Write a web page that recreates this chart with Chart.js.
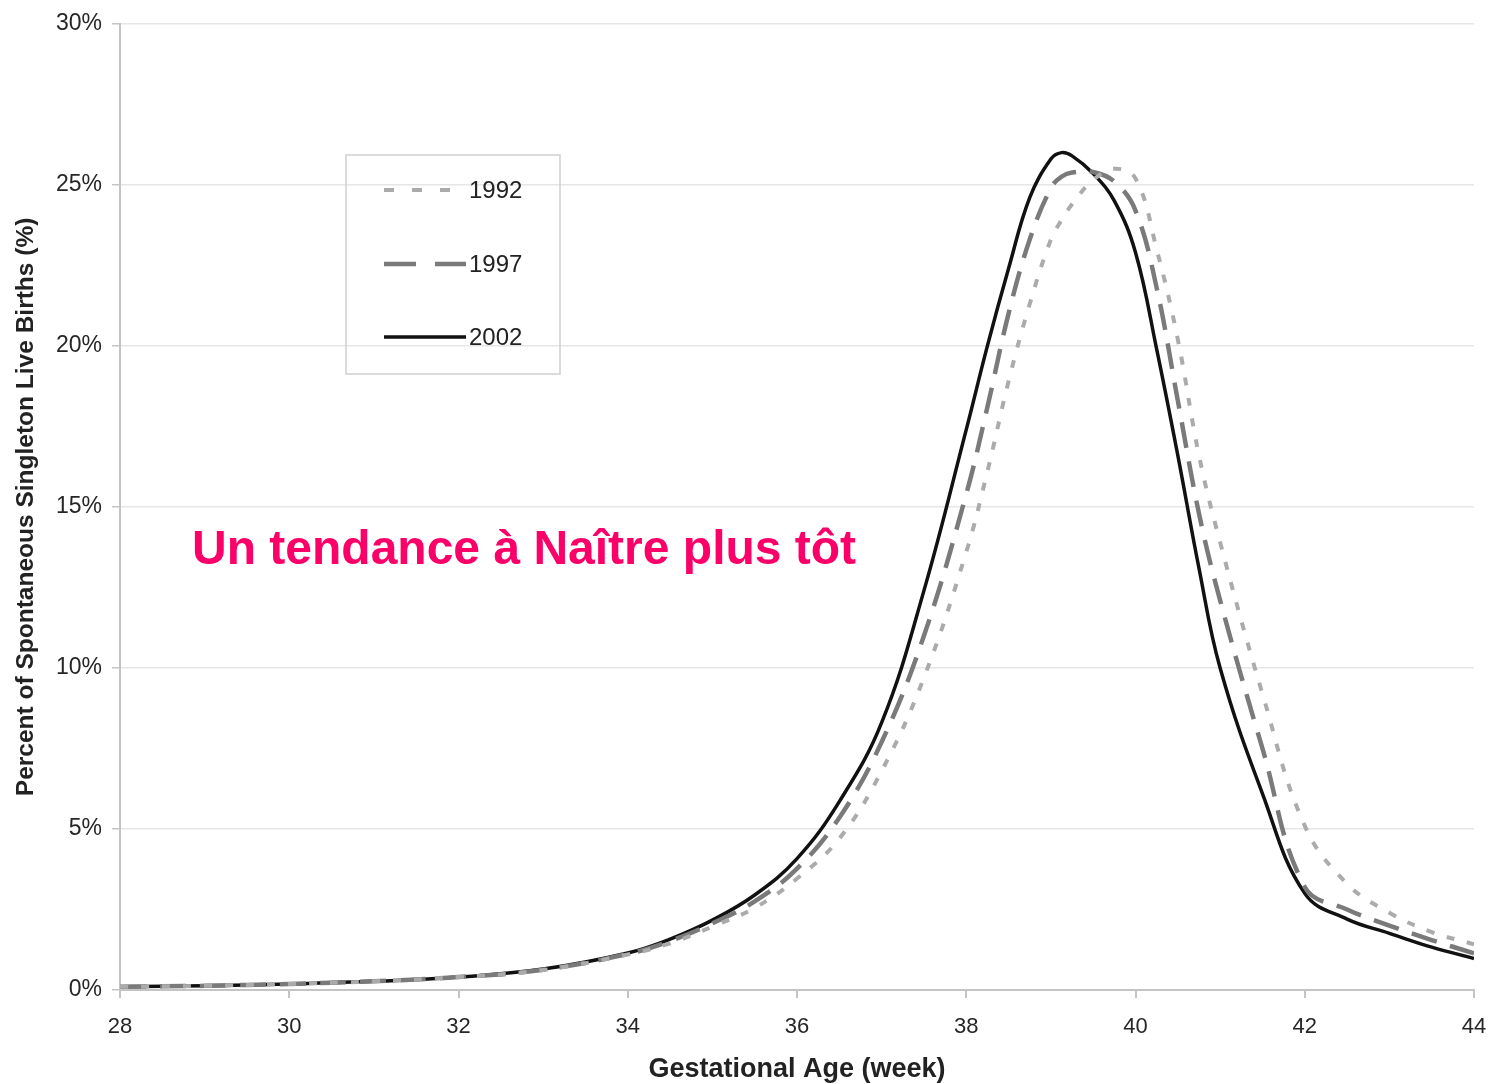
<!DOCTYPE html>
<html>
<head>
<meta charset="utf-8">
<script src="https://cdn.jsdelivr.net/npm/chart.js@4.4.0/dist/chart.umd.min.js"></script>
<style>
  body { margin: 0; background: #fff; }
  #wrap { width: 1497px; height: 1084px; position: relative; }
</style>
</head>
<body>
<div id="wrap"><canvas id="chart"></canvas></div>
<script>
// gestational age (weeks), finer steps around the peak
const weeks = [28, 29, 30, 31, 32, 33, 34, 34.5, 35, 35.5, 36, 36.5, 37, 37.5, 38, 38.25, 38.5, 38.75,
  39, 39.125, 39.25, 39.5, 39.75, 40, 40.25, 40.5, 40.75, 41, 41.5, 42, 42.5, 43, 43.5, 44];

// percent of spontaneous singleton live births
const births1992 = [0.10, 0.13, 0.19, 0.27, 0.40, 0.62, 1.10, 1.45, 1.97, 2.55, 3.46, 4.70, 6.80, 9.70, 13.6, 16.1, 18.9, 21.3,
  23.3, 23.9, 24.4, 25.15, 25.5, 25.2, 23.0, 20.2, 16.6, 13.9, 9.2, 5.1, 3.3, 2.4, 1.8, 1.42];
const births1997 = [0.10, 0.13, 0.19, 0.27, 0.40, 0.63, 1.12, 1.52, 2.07, 2.75, 3.77, 5.35, 7.70, 11.0, 15.4, 18.1, 21.0, 23.3,
  24.9, 25.25, 25.38, 25.4, 25.1, 24.2, 21.8, 18.3, 14.8, 12.1, 7.5, 3.2, 2.5, 2.0, 1.55, 1.14];
const births2002 = [0.10, 0.13, 0.19, 0.27, 0.40, 0.65, 1.15, 1.58, 2.17, 2.95, 4.08, 5.85, 8.3, 12.4, 17.4, 20.0, 22.4, 24.6,
  25.8, 26.0, 25.9, 25.35, 24.5, 22.9, 19.9, 16.6, 13.1, 10.0, 6.1, 3.0, 2.2, 1.76, 1.33, 0.98];

const seriesLabels = ["1992", "1997", "2002"];
const yTicks = [0, 5, 10, 15, 20, 25, 30];
const xTicks = [28, 30, 32, 34, 36, 38, 40, 42, 44];
const noteText = "Un tendance à Naître plus tôt";

const FONT = "'Liberation Sans', Arial, sans-serif";

const toPoints = (vals) => vals.map((v, i) => ({ x: weeks[i], y: v }));

// legend box drawn by hand, like the original spreadsheet legend
const legendBox = {
  id: "legendBox",
  afterDraw(chart) {
    const ctx = chart.ctx;
    ctx.save();
    ctx.strokeStyle = "#cfcfcf";
    ctx.lineWidth = 1.5;
    ctx.strokeRect(346, 155, 214, 219);
    const rows = [190, 264, 337];
    const dashes = [[10, 18], [32, 19], []];
    chart.data.datasets.forEach((ds, i) => {
      ctx.beginPath();
      ctx.setLineDash(dashes[i]);
      ctx.strokeStyle = ds.borderColor;
      ctx.lineWidth = ds.borderWidth;
      ctx.moveTo(384, rows[i]);
      ctx.lineTo(466, rows[i]);
      ctx.stroke();
      ctx.setLineDash([]);
      ctx.fillStyle = "#222";
      ctx.font = "24px " + FONT;
      ctx.textBaseline = "middle";
      ctx.fillText(ds.label, 469, rows[i] + 1);
    });
    // note in pink
    ctx.fillStyle = "#fa0068";
    ctx.font = "bold 48px " + FONT;
    ctx.textBaseline = "alphabetic";
    ctx.fillText(noteText, 192, 564);
    ctx.restore();
  }
};

new Chart(document.getElementById("chart"), {
  type: "line",
  plugins: [legendBox],
  data: {
    datasets: [
      { label: seriesLabels[0], data: toPoints(births1992), borderColor: "#ababab", borderWidth: 4, borderDash: [8, 13] },
      { label: seriesLabels[1], data: toPoints(births1997), borderColor: "#7a7a7a", borderWidth: 4.5, borderDash: [26, 14] },
      { label: seriesLabels[2], data: toPoints(births2002), borderColor: "#111111", borderWidth: 3.5 }
    ]
  },
  options: {
    responsive: true,
    maintainAspectRatio: false,
    animation: false,
    layout: { padding: { top: 20, right: 23, left: 0, bottom: 0 } },
    elements: {
      point: { radius: 0 },
      line: { tension: 0.4, fill: false }
    },
    plugins: { legend: { display: false }, tooltip: { enabled: false } },
    scales: {
      x: {
        type: "linear",
        min: 28, max: 44,
        afterFit: (s) => { s.height = 94; s.paddingLeft = 0; s.paddingRight = 0; },
        afterBuildTicks: (s) => { s.ticks = xTicks.map(v => ({ value: v })); },
        ticks: { color: "#262626", font: { family: FONT, size: 22 }, padding: 16 },
        grid: { drawOnChartArea: false, tickLength: 8, color: "#c4c4c4", lineWidth: 2 },
        border: { color: "#c4c4c4", width: 2 },
        title: {
          display: true, text: "Gestational Age (week)", color: "#222",
          font: { family: FONT, size: 27, weight: "bold" }, padding: { top: 0, bottom: -2 }
        }
      },
      y: {
        min: 0, max: 30,
        afterFit: (s) => { s.width = 120; },
        afterBuildTicks: (s) => { s.ticks = yTicks.map(v => ({ value: v })); },
        ticks: { color: "#262626", font: { family: FONT, size: 23 }, padding: 10, callback: (v) => v + "%" },
        grid: { color: "#e6e6e6", lineWidth: 1.5, tickColor: "#c4c4c4", tickLength: 8 },
        border: { color: "#c4c4c4", width: 2 },
        title: {
          display: true, text: "Percent of Spontaneous Singleton Live Births (%)", color: "#222",
          font: { family: FONT, size: 24.5, weight: "bold" }, padding: { top: 12, bottom: 0 }
        }
      }
    }
  }
});
</script>
</body>
</html>
